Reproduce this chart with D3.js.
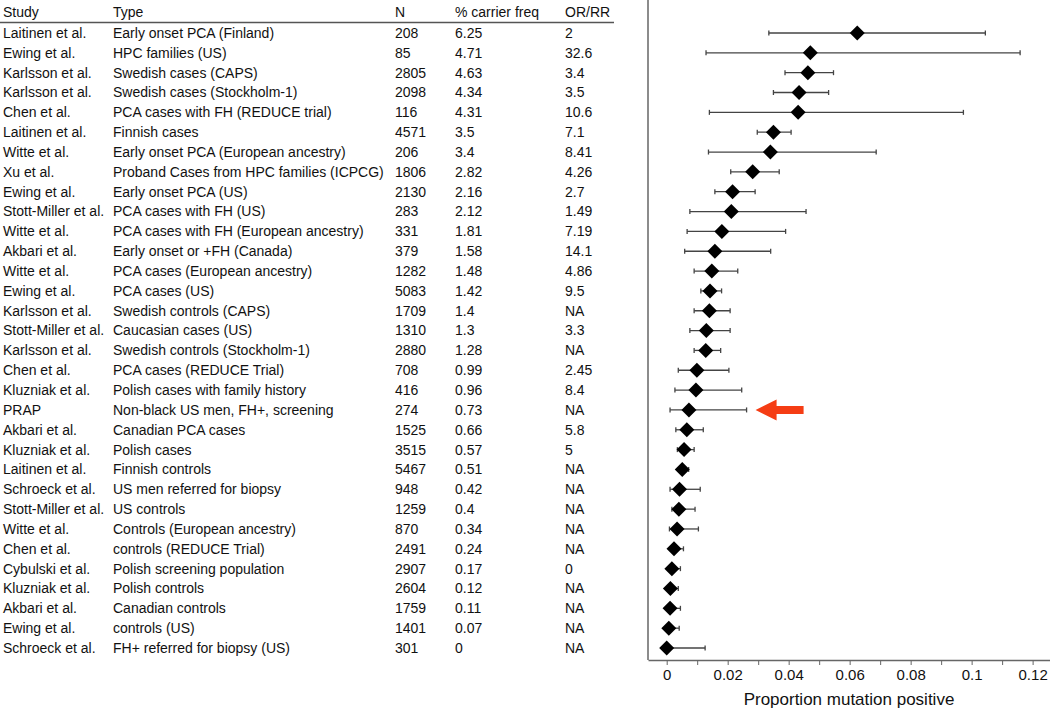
<!DOCTYPE html>
<html><head><meta charset="utf-8">
<script src="https://cdn.jsdelivr.net/npm/d3@7"></script>
<style>body{margin:0;background:#fff}svg{display:block}</style>
</head><body>
<svg id="c" width="1050" height="710"></svg>
<script>
const studies = ["Laitinen et al.","Ewing et al.","Karlsson et al.","Karlsson et al.","Chen et al.","Laitinen et al.","Witte et al.","Xu et al.","Ewing et al.","Stott-Miller et al.","Witte et al.","Akbari et al.","Witte et al.","Ewing et al.","Karlsson et al.","Stott-Miller et al.","Karlsson et al.","Chen et al.","Kluzniak et al.","PRAP","Akbari et al.","Kluzniak et al.","Laitinen et al.","Schroeck et al.","Stott-Miller et al.","Witte et al.","Chen et al.","Cybulski et al.","Kluzniak et al.","Akbari et al.","Ewing et al.","Schroeck et al."];
const types = ["Early onset PCA (Finland)","HPC families (US)","Swedish cases (CAPS)","Swedish cases (Stockholm-1)","PCA cases with FH (REDUCE trial)","Finnish cases","Early onset PCA (European ancestry)","Proband Cases from HPC families (ICPCG)","Early onset PCA (US)","PCA cases with FH (US)","PCA cases with FH (European ancestry)","Early onset or +FH (Canada)","PCA cases (European ancestry)","PCA cases (US)","Swedish controls (CAPS)","Caucasian cases (US)","Swedish controls (Stockholm-1)","PCA cases (REDUCE Trial)","Polish cases with family history","Non-black US men, FH+, screening","Canadian PCA cases","Polish cases","Finnish controls","US men referred for biopsy","US controls","Controls (European ancestry)","controls (REDUCE Trial)","Polish screening population","Polish controls","Canadian controls","controls (US)","FH+ referred for biopsy (US)"];
const ns = ["208","85","2805","2098","116","4571","206","1806","2130","283","331","379","1282","5083","1709","1310","2880","708","416","274","1525","3515","5467","948","1259","870","2491","2907","2604","1759","1401","301"];
const freqs = ["6.25","4.71","4.63","4.34","4.31","3.5","3.4","2.82","2.16","2.12","1.81","1.58","1.48","1.42","1.4","1.3","1.28","0.99","0.96","0.73","0.66","0.57","0.51","0.42","0.4","0.34","0.24","0.17","0.12","0.11","0.07","0"];
const orrr = ["2","32.6","3.4","3.5","10.6","7.1","8.41","4.26","2.7","1.49","7.19","14.1","4.86","9.5","NA","3.3","NA","2.45","8.4","NA","5.8","5","NA","NA","NA","NA","NA","0","NA","NA","NA","NA"];
const ciLow = [0.0335,0.0129,0.0388,0.0350,0.0140,0.0297,0.0137,0.0210,0.0158,0.0076,0.0067,0.0059,0.0090,0.0112,0.0090,0.0076,0.0090,0.0038,0.0027,0.0011,0.0030,0.0035,0.0037,0.0011,0.0017,0.0009,0.0012,0.0005,0.0003,0.0003,0.0001,0.0000];
const ciHigh = [0.1045,0.1159,0.0547,0.0531,0.0973,0.0408,0.0687,0.0369,0.0290,0.0457,0.0390,0.0341,0.0233,0.0180,0.0208,0.0208,0.0177,0.0204,0.0246,0.0262,0.0120,0.0090,0.0072,0.0110,0.0093,0.0104,0.0055,0.0045,0.0038,0.0045,0.0041,0.0126];
const headers = ["Study","Type","N","% carrier freq","OR/RR"];
const xTicks = [0,0.01,0.02,0.03,0.04,0.05,0.06,0.07,0.08,0.09,0.10,0.11,0.12];
const xLabelTicks = [0,0.02,0.04,0.06,0.08,0.1,0.12];
const arrowRow = 19;

const svg = d3.select("#c");
const font = "'Liberation Sans', Arial, sans-serif";
const idx = d3.range(studies.length);
const y = d3.scalePoint().domain(idx).range([33, 648]);
const x = d3.scaleLinear().domain([-0.00613, 0.1257]).range([648, 1050]);

// table
const colX = [3, 113, 395, 455, 565];
const hdr = svg.append("g").attr("font-family", font).attr("font-size", 14).attr("fill", "#111");
headers.forEach((h, i) => hdr.append("text").attr("x", colX[i]).attr("y", 12).attr("dy", "0.35em").text(h));
svg.append("line").attr("x1", 0).attr("x2", 614).attr("y1", 22.5).attr("y2", 22.5).attr("stroke", "#555").attr("stroke-width", 1.5);

const cols = [studies, types, ns, freqs, orrr];
const tbl = svg.append("g").attr("font-family", font).attr("font-size", 14).attr("fill", "#111");
cols.forEach((arr, c) => {
  tbl.selectAll(null).data(idx).join("text")
    .attr("x", colX[c]).attr("y", d => y(d)).attr("dy", "0.35em").text(d => arr[d]);
});

// axes
const axisY = 660;
svg.append("line").attr("x1", 648).attr("x2", 648).attr("y1", 0).attr("y2", axisY).attr("stroke", "#666").attr("stroke-width", 1.5);
const xAxis = d3.axisBottom(x).tickValues(xTicks).tickSize(5).tickSizeOuter(0)
  .tickFormat(d => xLabelTicks.some(t => Math.abs(t - d) < 1e-9) ? d3.format("~g")(+d.toFixed(2)) : "");
const ga = svg.append("g").attr("transform", `translate(0,${axisY})`).call(xAxis);
ga.select(".domain").attr("stroke", "#666").attr("stroke-width", 1.5);
ga.selectAll(".tick line").attr("stroke", "#666");
ga.selectAll(".tick text").attr("font-family", font).attr("font-size", 15).attr("fill", "#111").attr("dy", "0.8em");
svg.append("text").attr("x", 849).attr("y", 699).attr("dy", "0.35em").attr("text-anchor", "middle")
  .attr("font-family", font).attr("font-size", 17).attr("fill", "#111").text("Proportion mutation positive");

// error bars
const eb = svg.append("g").attr("stroke", "#444").attr("stroke-width", 1.3);
eb.selectAll(".h").data(idx).join("line").attr("x1", d => x(ciLow[d])).attr("x2", d => x(ciHigh[d])).attr("y1", d => y(d)).attr("y2", d => y(d));
eb.selectAll(".l").data(idx).join("line").attr("x1", d => x(ciLow[d])).attr("x2", d => x(ciLow[d])).attr("y1", d => y(d) - 2.5).attr("y2", d => y(d) + 2.5);
eb.selectAll(".r").data(idx).join("line").attr("x1", d => x(ciHigh[d])).attr("x2", d => x(ciHigh[d])).attr("y1", d => y(d) - 2.5).attr("y2", d => y(d) + 2.5);

// diamonds
const s = 7.5;
svg.append("g").selectAll("path").data(idx).join("path")
  .attr("transform", d => `translate(${x(+freqs[d] / 100)},${y(d)})`)
  .attr("d", `M0,${-s}L${s},0L0,${s}L${-s},0Z`).attr("fill", "#000");

// red arrow
const ay = y(arrowRow), ax = x(ciHigh[arrowRow]) + 9;
svg.append("path")
  .attr("d", `M${ax},${ay}L${ax + 21},${ay - 10.5}L${ax + 21},${ay - 4}L${ax + 48},${ay - 4}L${ax + 48},${ay + 4}L${ax + 21},${ay + 4}L${ax + 21},${ay + 10.5}Z`)
  .attr("fill", "#f53d14");
</script>
</body></html>
